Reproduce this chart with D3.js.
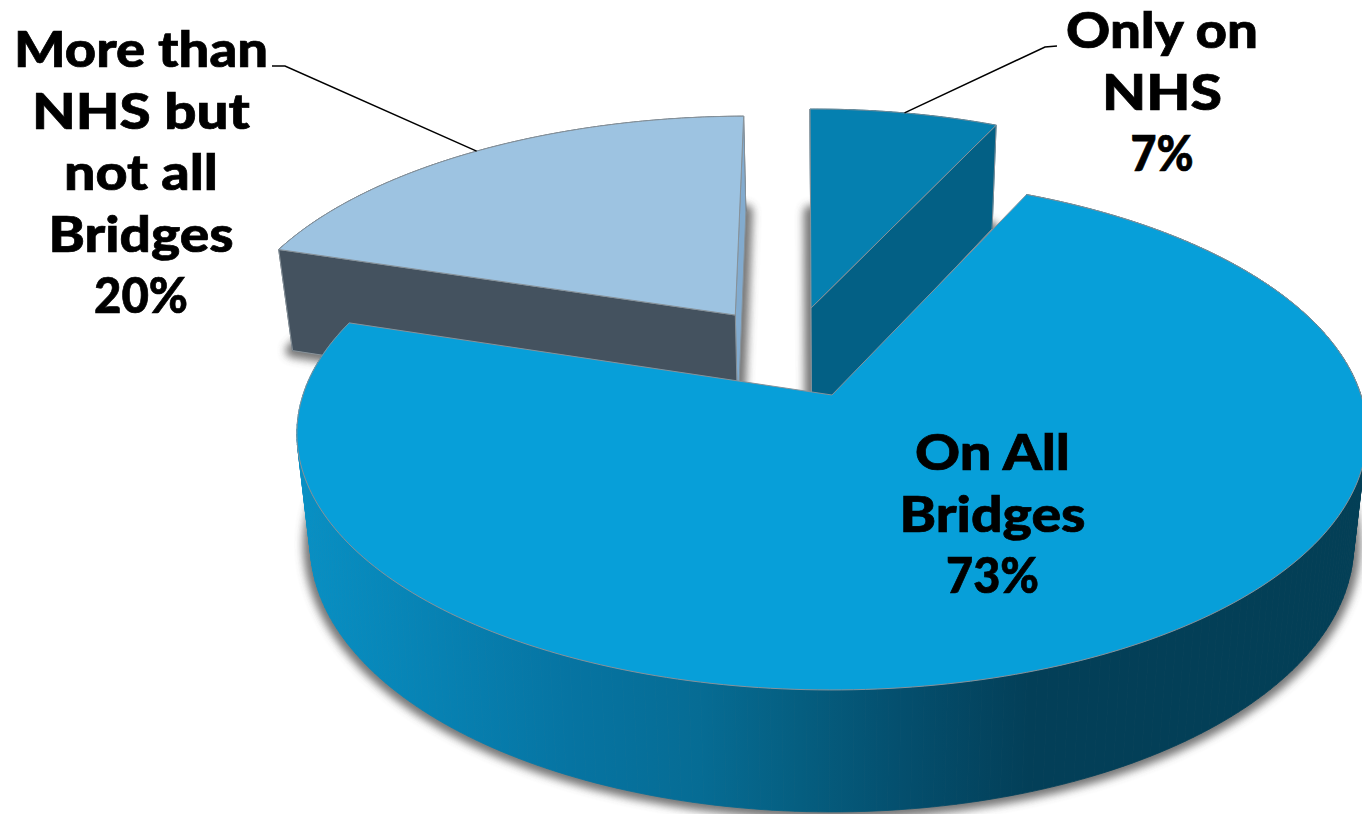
<!DOCTYPE html>
<html>
<head>
<meta charset="utf-8">
<script src="https://cdn.jsdelivr.net/npm/d3@7/dist/d3.min.js"></script>
<style>
  html, body { margin: 0; padding: 0; background: #fff; overflow: hidden; }
  text { font-family: Lato, "Open Sans", sans-serif; font-weight: 900; font-size: 50px; fill: #000; stroke: #000; stroke-width: 0.7px; text-anchor: middle; }
</style>
</head>
<body>
<svg id="chart" width="1362" height="814"></svg>
<script>
// Share of bridges by network coverage
const categories = ["Only on NHS", "On All Bridges", "More than NHS but not all Bridges"];
const shares = [7, 73, 20];
const labelLines = [
  ["Only on", "NHS", "7%"],
  ["On All", "Bridges", "73%"],
  ["More than", "NHS but", "not all", "Bridges", "20%"]
];
const labelLineWidths = [
  [192, 120, 63],
  [155, 186, 93],
  [254, 218, 154, 185, 94]
];

// Styling and layout for each slice, in the same order as the categories
const topColors = ["#0580b0", "#079fd9", "#9dc3e1"];
const frontFaceColors = ["#036085", null, "#44525f"];
const backFaceColors = ["#2f5563", null, "#82abcf"];
const explode = [[-0.0438, 0.366], [-0.002, 0], [-0.194, 0.335]];
const radiusScale = [[0.985, 1.01], [1, 1], [1, 1]];
const depthTrim = [6, 0, -2];
const labelAnchors = [[1162, 48], [992.5, 470], [141, 67]];
const leaderElbows = [[[1057, 46], [1045, 47]], null, [[272, 66], [285, 66]]];
const lineGap = 61.6;
const pieRotation = -0.5 * Math.PI / 180;

// Perspective view of the pie's ground plane
const view = { cx: 833, cy: 395, rx: 529, ry: 250.7, persp: 0.15 };
const base = { vx: 833, sx: 0.975, d0: 92.4, dk: 0.0429 };

function project(u, v) {
  const w = 1 + view.persp * v;
  return [view.cx + view.rx * u / w, view.cy - view.ry * v / w];
}
// Where a point on the top face lands on the bottom face
function dropBy(trim) {
  return ([x, y]) => [base.vx + base.sx * (x - base.vx), y + base.d0 + base.dk * y + trim];
}

const svg = d3.select("#chart");
const defs = svg.append("defs");

defs.append("filter").attr("id", "soft")
  .attr("x", "-10%").attr("y", "-10%").attr("width", "120%").attr("height", "120%")
  .append("feGaussianBlur").attr("stdDeviation", 4);

// Outer wall of the large slice darkens from left to right
const sideShade = defs.append("linearGradient").attr("id", "sideShade")
  .attr("gradientUnits", "userSpaceOnUse")
  .attr("x1", 300).attr("x2", 1362).attr("y1", 0).attr("y2", 0);
[[0, "#0890c4"], [0.254, "#0674a2"], [0.377, "#066c94"], [0.471, "#055e80"], [0.565, "#044f6e"], [0.687, "#033f58"], [1, "#033f56"]]
  .forEach(([o, c]) => sideShade.append("stop").attr("offset", o).attr("stop-color", c));

const arcs = d3.pie().sort(null).startAngle(pieRotation).endAngle(pieRotation + 2 * Math.PI)(shares);
const line = d3.line();

const slices = arcs.map((a, i) => {
  const [ou, ov] = explode[i];
  const [ru, rv] = radiusScale[i];
  const at = t => project(ou + ru * Math.sin(t), ov + rv * Math.cos(t));
  const steps = d3.range(0, 241).map(k => a.startAngle + (a.endAngle - a.startAngle) * k / 240);
  const rim = steps.map(at);
  const apex = project(ou, ov);
  return { i, apex, rim, mid: at((a.startAngle + a.endAngle) / 2) };
});

// Each slice paints back to front: soft shadow, side faces, then the top
const paintOrder = [2, 0, 1];
paintOrder.forEach(i => {
  const s = slices[i];
  const drop = dropBy(depthTrim[i]);
  const g = svg.append("g").attr("class", "slice");
  const topFace = [s.apex, ...s.rim];
  const bottomFace = topFace.map(drop);
  const first = s.rim[0], last = s.rim[s.rim.length - 1];

  // Shadow follows the bottom face of the slice
  g.append("path").attr("d", line(bottomFace) + "Z")
    .attr("fill", "#4a4a4a").attr("stroke", "#4a4a4a").attr("stroke-width", 14)
    .attr("stroke-linejoin", "round").attr("opacity", 0.75).attr("filter", "url(#soft)");

  const face = (pts, fill) => {
    g.append("path").attr("d", line(pts) + "Z").attr("fill", fill)
      .attr("stroke", "#87929a").attr("stroke-width", 1);
  };

  // Outer wall as a strip of small quads so the silhouette stays solid
  const wallFill = i === 1 ? "url(#sideShade)" : frontFaceColors[i];
  const wall = g.append("g");
  d3.pairs(s.rim).forEach(([p, q]) => {
    wall.append("path").attr("d", line([p, q, drop(q), drop(p)]) + "Z")
      .attr("fill", wallFill).attr("stroke", wallFill).attr("stroke-width", 0.8);
  });

  if (i === 0) {
    face([s.apex, first, drop(first), drop(s.apex)], backFaceColors[i]);
    face([s.apex, last, drop(last), drop(s.apex)], frontFaceColors[i]);
  } else if (i === 2) {
    face([s.apex, last, drop(last), drop(s.apex)], backFaceColors[i]);
    face([s.apex, first, drop(first), drop(s.apex)], frontFaceColors[i]);
  }
  face(topFace, topColors[i]);
});

// Leader lines run from the label to the middle of the slice's rim
slices.forEach(s => {
  const elbow = leaderElbows[s.i];
  if (!elbow) return;
  svg.append("path").attr("d", line([...elbow, s.mid]))
    .attr("fill", "none").attr("stroke", "#000").attr("stroke-width", 1.5);
});

labelLines.forEach((lines, i) => {
  const [x, y] = labelAnchors[i];
  const group = svg.append("g").attr("aria-label", categories[i]);
  lines.forEach((txt, k) => {
    group.append("text").attr("x", x).attr("y", y + k * lineGap)
      .attr("textLength", labelLineWidths[i][k]).attr("lengthAdjust", "spacingAndGlyphs")
      .text(txt);
  });
});
</script>
</body>
</html>
